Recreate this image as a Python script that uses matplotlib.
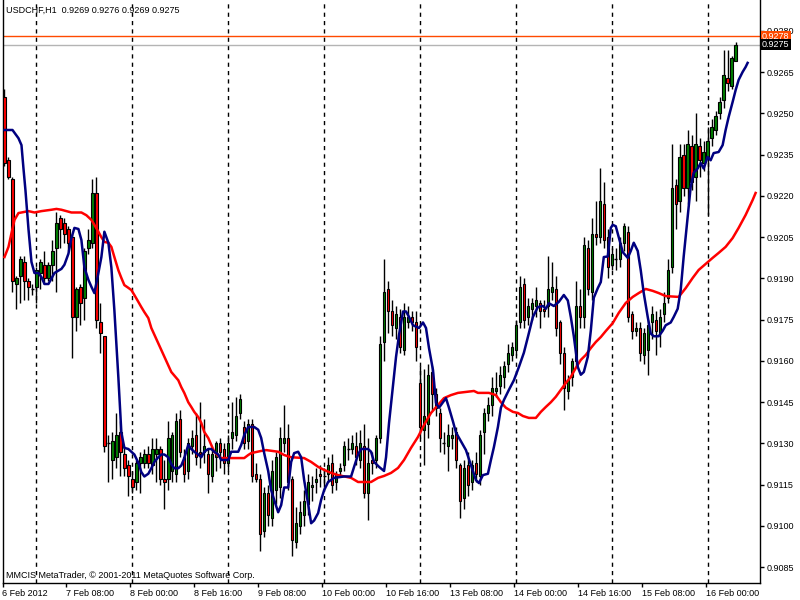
import matplotlib
matplotlib.use('Agg')
import matplotlib.pyplot as plt
import matplotlib.transforms as mtransforms

plt.rcParams['font.family'] = ['Liberation Sans', 'DejaVu Sans']

title_text = "USDCHF,H1  0.9269 0.9276 0.9269 0.9275"
footer_text = "MMCIS MetaTrader, \u00a9 2001-2011 MetaQuotes Software Corp."

opens = [0.9256, 0.9233, 0.9226, 0.9188, 0.9191, 0.9196, 0.9189, 0.9186, 0.9187, 0.9192,
         0.9195, 0.9190, 0.9195, 0.9201, 0.9212, 0.9210, 0.9208, 0.9205, 0.9176, 0.9187,
         0.9183, 0.9201, 0.9203, 0.9221, 0.9174, 0.9169, 0.9130, 0.9124, 0.9125, 0.9134,
         0.9126, 0.9122, 0.9117, 0.9116, 0.9123, 0.9123, 0.9126, 0.9122, 0.9126, 0.9128,
         0.9117, 0.9117, 0.9120, 0.9119, 0.9139, 0.9125, 0.9120, 0.9129, 0.9133, 0.9127,
         0.9127, 0.9126, 0.9118, 0.9125, 0.9130, 0.9128, 0.9123, 0.9132, 0.9133, 0.9141,
         0.9136, 0.9131, 0.9137, 0.9119, 0.9117, 0.9098, 0.9112, 0.9103, 0.9113, 0.9114,
         0.9130, 0.9132, 0.9117, 0.9094, 0.9100, 0.9104, 0.9108, 0.9114, 0.9116, 0.9119,
         0.9118, 0.9119, 0.9123, 0.9116, 0.9120, 0.9122, 0.9128, 0.9128, 0.9129, 0.9124,
         0.9129, 0.9112, 0.9124, 0.9124, 0.9132, 0.9167, 0.9186, 0.9178, 0.9172, 0.9176,
         0.9164, 0.9174, 0.9176, 0.9174, 0.9152, 0.9135, 0.9137, 0.9156, 0.9148, 0.9141,
         0.9130, 0.9129, 0.9132, 0.9134, 0.9122, 0.9110, 0.9122, 0.9116, 0.9123, 0.9118,
         0.9134, 0.9141, 0.9144, 0.9149, 0.9151, 0.9154, 0.9159, 0.9162, 0.9164, 0.9174,
         0.9188, 0.9176, 0.9179, 0.9180, 0.9181, 0.9179, 0.9180, 0.9185, 0.9186, 0.9174,
         0.9163, 0.9149, 0.9154, 0.9160, 0.9180, 0.9176, 0.9201, 0.9185, 0.9206, 0.9205,
         0.9217, 0.9205, 0.9195, 0.9197, 0.9197, 0.9203, 0.9207, 0.9177, 0.9171, 0.9172,
         0.9162, 0.9164, 0.9174, 0.9175, 0.9170, 0.9177, 0.9183, 0.9194, 0.9224, 0.9218,
         0.9235, 0.9223, 0.9238, 0.9227, 0.9238, 0.9232, 0.9234, 0.9241, 0.9244, 0.9250,
         0.9255, 0.9263, 0.9260, 0.9269]
highs = [0.9259, 0.9234, 0.9227, 0.9191, 0.9198, 0.9198, 0.9190, 0.9188, 0.9194, 0.9197,
         0.9200, 0.9196, 0.9204, 0.9214, 0.9213, 0.9212, 0.9209, 0.9206, 0.9187, 0.9188,
         0.9201, 0.9208, 0.9226, 0.9227, 0.9181, 0.9169, 0.9133, 0.9134, 0.9141, 0.9138,
         0.9129, 0.9124, 0.9120, 0.9124, 0.9127, 0.9128, 0.9129, 0.9132, 0.9132, 0.9129,
         0.9124, 0.9138, 0.9134, 0.9141, 0.9142, 0.9128, 0.9132, 0.9135, 0.9141, 0.9145,
         0.9139, 0.9128, 0.9128, 0.9131, 0.9132, 0.9130, 0.9133, 0.9145, 0.9147, 0.9148,
         0.9138, 0.9139, 0.9139, 0.9123, 0.9119, 0.9114, 0.9115, 0.9124, 0.9127, 0.9136,
         0.9144, 0.9137, 0.9118, 0.9107, 0.9109, 0.9113, 0.9119, 0.9118, 0.9121, 0.9122,
         0.9121, 0.9125, 0.9126, 0.9120, 0.9123, 0.9131, 0.9132, 0.9133, 0.9134, 0.9135,
         0.9137, 0.9132, 0.9127, 0.9133, 0.9169, 0.9197, 0.9189, 0.9182, 0.9180, 0.9179,
         0.9181, 0.9180, 0.9178, 0.9178, 0.9158, 0.9157, 0.9159, 0.9158, 0.9150, 0.9143,
         0.9134, 0.9137, 0.9136, 0.9136, 0.9123, 0.9124, 0.9127, 0.9124, 0.9127, 0.9135,
         0.9143, 0.9147, 0.9154, 0.9156, 0.9158, 0.9160, 0.9166, 0.9167, 0.9175, 0.9191,
         0.9190, 0.9183, 0.9183, 0.9187, 0.9182, 0.9182, 0.9198, 0.9196, 0.9191, 0.9175,
         0.9165, 0.9155, 0.9161, 0.9189, 0.9186, 0.9205, 0.9204, 0.9212, 0.9218, 0.9230,
         0.9225, 0.9208, 0.9201, 0.9201, 0.9205, 0.9210, 0.9209, 0.9178, 0.9174, 0.9174,
         0.9172, 0.9175, 0.9180, 0.9178, 0.9179, 0.9185, 0.9197, 0.9239, 0.9226, 0.9239,
         0.9239, 0.9244, 0.9242, 0.9250, 0.9241, 0.9240, 0.9245, 0.9248, 0.9251, 0.9256,
         0.9273, 0.9273, 0.9271, 0.9276]
lows = [0.9231, 0.9226, 0.9185, 0.9179, 0.9181, 0.9182, 0.9182, 0.9184, 0.9181, 0.9186,
        0.9188, 0.9189, 0.9189, 0.9185, 0.9201, 0.9203, 0.9200, 0.9161, 0.9171, 0.9173,
        0.9175, 0.9199, 0.9201, 0.9172, 0.9163, 0.9127, 0.9116, 0.9117, 0.9121, 0.9118,
        0.9118, 0.9111, 0.9112, 0.9113, 0.9112, 0.9121, 0.9121, 0.9119, 0.9116, 0.9115,
        0.9106, 0.9113, 0.9116, 0.9116, 0.9125, 0.9116, 0.9117, 0.9126, 0.9122, 0.9121,
        0.9123, 0.9112, 0.9116, 0.9120, 0.9121, 0.9119, 0.9120, 0.9128, 0.9131, 0.9139,
        0.9128, 0.9128, 0.9116, 0.9116, 0.9091, 0.9096, 0.9100, 0.9100, 0.9108, 0.9110,
        0.9127, 0.9113, 0.9089, 0.9092, 0.9097, 0.9100, 0.9104, 0.9109, 0.9112, 0.9114,
        0.9114, 0.9116, 0.9112, 0.9113, 0.9118, 0.9120, 0.9124, 0.9126, 0.9122, 0.9121,
        0.9110, 0.9102, 0.9119, 0.9121, 0.9130, 0.9160, 0.9170, 0.9169, 0.9168, 0.9163,
        0.9162, 0.9172, 0.9171, 0.9160, 0.9132, 0.9122, 0.9132, 0.9142, 0.9140, 0.9127,
        0.9126, 0.9120, 0.9128, 0.9121, 0.9103, 0.9106, 0.9111, 0.9113, 0.9116, 0.9115,
        0.9126, 0.9138, 0.9140, 0.9147, 0.9148, 0.9150, 0.9156, 0.9160, 0.9162, 0.9172,
        0.9172, 0.9173, 0.9175, 0.9176, 0.9172, 0.9176, 0.9176, 0.9182, 0.9169, 0.9159,
        0.9142, 0.9146, 0.9151, 0.9158, 0.9172, 0.9172, 0.9184, 0.9182, 0.9202, 0.9203,
        0.9201, 0.9190, 0.9193, 0.9193, 0.9194, 0.9200, 0.9174, 0.9168, 0.9169, 0.9160,
        0.9159, 0.9155, 0.9168, 0.9162, 0.9165, 0.9174, 0.9181, 0.9192, 0.9208, 0.9214,
        0.9220, 0.9217, 0.9222, 0.9218, 0.9227, 0.9229, 0.9213, 0.9238, 0.9242, 0.9248,
        0.9252, 0.9258, 0.9259, 0.9269]
closes = [0.9232, 0.9227, 0.9189, 0.9190, 0.9197, 0.9189, 0.9187, 0.9186, 0.9193, 0.9196,
          0.9190, 0.9195, 0.9200, 0.9210, 0.9208, 0.9206, 0.9203, 0.9176, 0.9186, 0.9181,
          0.9200, 0.9204, 0.9221, 0.9175, 0.9170, 0.9129, 0.9130, 0.9131, 0.9133, 0.9127,
          0.9121, 0.9118, 0.9114, 0.9123, 0.9125, 0.9126, 0.9123, 0.9128, 0.9128, 0.9117,
          0.9116, 0.9132, 0.9133, 0.9138, 0.9127, 0.9119, 0.9130, 0.9132, 0.9125, 0.9126,
          0.9129, 0.9119, 0.9126, 0.9130, 0.9127, 0.9123, 0.9130, 0.9134, 0.9140, 0.9146,
          0.9130, 0.9137, 0.9118, 0.9117, 0.9097, 0.9112, 0.9104, 0.9120, 0.9125, 0.9132,
          0.9132, 0.9116, 0.9095, 0.9101, 0.9105, 0.9109, 0.9116, 0.9115, 0.9117, 0.9118,
          0.9118, 0.9122, 0.9115, 0.9119, 0.9121, 0.9129, 0.9128, 0.9130, 0.9125, 0.9130,
          0.9112, 0.9123, 0.9123, 0.9132, 0.9166, 0.9185, 0.9178, 0.9173, 0.9177, 0.9165,
          0.9176, 0.9176, 0.9174, 0.9165, 0.9136, 0.9140, 0.9155, 0.9148, 0.9143, 0.9132,
          0.9130, 0.9133, 0.9133, 0.9124, 0.9109, 0.9121, 0.9115, 0.9122, 0.9119, 0.9133,
          0.9141, 0.9144, 0.9150, 0.9150, 0.9155, 0.9158, 0.9163, 0.9165, 0.9173, 0.9187,
          0.9175, 0.9180, 0.9181, 0.9182, 0.9178, 0.9178, 0.9186, 0.9187, 0.9172, 0.9163,
          0.9150, 0.9153, 0.9160, 0.9180, 0.9176, 0.9202, 0.9186, 0.9206, 0.9205, 0.9218,
          0.9204, 0.9194, 0.9199, 0.9197, 0.9203, 0.9209, 0.9176, 0.9171, 0.9172, 0.9163,
          0.9170, 0.9173, 0.9177, 0.9171, 0.9176, 0.9181, 0.9193, 0.9223, 0.9217, 0.9234,
          0.9223, 0.9239, 0.9225, 0.9239, 0.9233, 0.9236, 0.9240, 0.9245, 0.9249, 0.9254,
          0.9264, 0.9261, 0.9270, 0.9275]

# fast moving average (navy), sampled points: bar index, value
fast_ma_bar = [0, 2, 3.5, 4.25, 4.75, 5.25, 6, 6.75, 7.5, 8.5, 9.25, 10, 11, 11.75, 12.5, 14.25,
               15, 16, 16.75, 17.5, 18.5, 19.25, 20, 21, 21.75, 22.5, 23.5, 24.25, 25, 26, 26.75,
               27.5, 28.5, 29.25, 30, 31, 31.75, 32.5, 33.5, 34.25, 35, 36, 36.75, 37.5, 38.5,
               39.25, 40, 41, 41.75, 42.5, 43.5, 44.25, 45, 46, 46.75, 47.5, 48.5, 49.25, 50, 51,
               51.75, 52.5, 53.5, 54.25, 56, 56.75, 58.5, 59.25, 60, 61, 61.75, 62.5, 63.5, 64.25,
               65, 66, 66.75, 67.5, 68.5, 69.25, 70, 71, 71.75, 72.5, 73.5, 74.25, 75, 76, 76.75,
               77.5, 78.5, 79.25, 80, 81, 82.5, 85, 86.75, 87.5, 88.5, 89.25, 91, 91.75, 92.5,
               93.75, 95, 95.5, 96.25, 97.25, 98, 98.75, 99.75, 100.5, 101.25, 102.25, 103.75,
               104.75, 105.5, 106.25, 107.25, 108, 108.75, 109.75, 110.5, 111.25, 112.25, 113,
               115.5, 117.25, 118, 118.75, 119.75, 121, 121.75, 122.5, 123.5, 124.25, 125, 126.25,
               127.5, 128.75, 130, 131, 132.25, 133.5, 134.75, 135.5, 136.25, 137.5, 138.75, 140,
               141, 141.75, 142.5, 143.5, 144.25, 145, 146, 146.75, 147.5, 148.5, 149.25, 150,
               151, 151.75, 152.25, 153, 153.75, 154.75, 156, 156.75, 157.5, 158.5, 159.25, 160,
               161, 161.75, 162.5, 163.75, 164.75, 165.5, 166.75, 167.5, 168.5, 169.25, 170, 171,
               171.75, 172.5, 173.5, 174.25, 175, 176, 176.75, 177.5, 178.75, 179.75, 180.5,
               181.25, 182.25, 183, 183.75, 184.75, 185.5, 186]
fast_ma_val = [0.9244, 0.9244, 0.9241, 0.92385, 0.9230, 0.9222, 0.9208, 0.9196, 0.9192, 0.9192,
               0.91905, 0.9188, 0.9188, 0.9190, 0.9192, 0.91935, 0.9195, 0.9199, 0.92047, 0.92084,
               0.9208, 0.9204, 0.9194, 0.91895, 0.9187, 0.91847, 0.9192, 0.91978, 0.9207, 0.9203,
               0.9194, 0.91785, 0.9154, 0.9134, 0.91284, 0.9128, 0.9127, 0.9126, 0.9123, 0.91196,
               0.9118, 0.9119, 0.9121, 0.91233, 0.9125, 0.9126, 0.9126, 0.9125, 0.91225, 0.9121,
               0.9121, 0.9122, 0.91247, 0.91295, 0.9128, 0.9127, 0.9126, 0.9125, 0.9127, 0.9128,
               0.9128, 0.9127, 0.9126, 0.9124, 0.9124, 0.9127, 0.9127, 0.91295, 0.9133, 0.9136,
               0.9136, 0.9136, 0.9135, 0.9132, 0.91265, 0.9120, 0.9113, 0.91095, 0.9105, 0.91076,
               0.9114, 0.9114, 0.91233, 0.91265, 0.9127, 0.9125, 0.91167, 0.9108, 0.9101, 0.9102,
               0.91047, 0.91095, 0.9113, 0.9116, 0.91175, 0.9118, 0.9118, 0.91215, 0.9126, 0.9128,
               0.9128, 0.9127, 0.91233, 0.91215, 0.9120, 0.9125, 0.91375, 0.9151, 0.91615, 0.91695,
               0.9178, 0.9178, 0.9176, 0.9173, 0.9172, 0.9174, 0.9172, 0.91647, 0.91567, 0.91447,
               0.9143, 0.9145, 0.91465, 0.9143, 0.9138, 0.9134, 0.91276, 0.9120, 0.91167, 0.91156,
               0.91185, 0.9119, 0.9124, 0.91287, 0.9136, 0.9143, 0.91458, 0.91495, 0.9153, 0.91578,
               0.9163, 0.91687, 0.9176, 0.91796, 0.9180, 0.9179, 0.9181, 0.9180, 0.91815, 0.9184,
               0.9182, 0.9176, 0.9169, 0.91578, 0.9155, 0.9156, 0.91615, 0.9171, 0.9183, 0.91865,
               0.91887, 0.91978, 0.9198, 0.92084, 0.92095, 0.9209, 0.9205, 0.91996, 0.91975, 0.9200,
               0.9203, 0.9200, 0.9193, 0.91847, 0.9176, 0.9170, 0.9169, 0.9169, 0.9171, 0.9173,
               0.9174, 0.9176, 0.9179, 0.91858, 0.9198, 0.92124, 0.92233, 0.92284, 0.9230, 0.9232,
               0.9230, 0.92342, 0.9233, 0.92356, 0.9236, 0.92385, 0.9244, 0.92487, 0.92542, 0.92585,
               0.92622, 0.92651, 0.92669, 0.92684]

# slow moving average (red), sampled points: bar index, value
slow_ma_bar = [0, 1, 1.75, 2.5, 3.5, 4.25, 6, 7.5, 9.25, 11.75, 13, 14.25, 16.75, 19.25, 20.5,
               21.75, 22.5, 23.5, 24.25, 25, 26, 26.75, 27.5, 28.5, 29.25, 30, 31, 31.75, 32.5,
               33.5, 34.25, 35, 36, 36.75, 39.25, 41.75, 43.5, 44.25, 45, 46, 46.75, 47.5, 48.5,
               49.25, 50, 51, 51.75, 52.5, 53.5, 54.25, 60, 61, 61.75, 64.25, 65.5, 68.5, 70,
               71.75, 75, 76.75, 78.5, 80, 81.75, 83.5, 86.75, 88.5, 91.75, 93.5, 95, 96.75, 98.5,
               100, 101.75, 103.5, 105, 106.75, 108.5, 110, 111.75, 113.5, 117.5, 118.5, 121.25,
               123, 124.25, 125.5, 127.25, 128.5, 129.75, 131.25, 133, 134.25, 135.5, 136.75, 138,
               139.25, 140.5, 141.75, 143, 144.25, 145.5, 146.75, 148, 149.25, 150.5, 152.25,
               153.75, 155.5, 157.25, 158.75, 160.5, 162.25, 163.75, 165.5, 168.75, 170.5, 172.25,
               173.75, 175.5, 177.25, 178.75, 180.5, 182.25, 183.75, 185.5, 187.25, 188]
slow_ma_val = [0.91978, 0.92015, 0.92065, 0.92113, 0.92138, 0.9214, 0.92145, 0.9214, 0.92145,
               0.9215, 0.92153, 0.9215, 0.9214, 0.9214, 0.9213, 0.92113, 0.92095, 0.9207, 0.9205,
               0.92033, 0.9203, 0.92015, 0.91978, 0.9193, 0.91902, 0.91876, 0.91866, 0.91858,
               0.9184, 0.91815, 0.91796, 0.91778, 0.91756, 0.9172, 0.9164, 0.9156, 0.9153, 0.91505,
               0.91484, 0.9145, 0.91433, 0.91415, 0.91396, 0.91375, 0.91342, 0.9132, 0.91295,
               0.9127, 0.91255, 0.91247, 0.91247, 0.91258, 0.91265, 0.91273, 0.91276, 0.9127,
               0.91258, 0.9125, 0.91247, 0.91233, 0.91215, 0.91204, 0.91193, 0.91185, 0.91175,
               0.9116, 0.9116, 0.91175, 0.91182, 0.91193, 0.91211, 0.9124, 0.91284, 0.91324,
               0.91367, 0.91411, 0.9144, 0.91465, 0.91476, 0.91484, 0.91491, 0.91484, 0.91484,
               0.91476, 0.9145, 0.9143, 0.91415, 0.91411, 0.9140, 0.91393, 0.91393, 0.91415,
               0.91433, 0.9145, 0.9147, 0.91495, 0.9152, 0.91542, 0.91575, 0.91604, 0.91622,
               0.91647, 0.91669, 0.91687, 0.91709, 0.91738, 0.91775, 0.91811, 0.91833, 0.91847,
               0.91862, 0.91855, 0.91847, 0.91836, 0.91833, 0.91865, 0.91902, 0.91931, 0.91953,
               0.91975, 0.91993, 0.92015, 0.92047, 0.92084, 0.92131, 0.92185, 0.92211]

xtick_bars = [0, 16, 32, 48, 64, 80, 96, 112, 128, 144, 160, 176]
xtick_labels = ["6 Feb 2012", "7 Feb 08:00", "8 Feb 00:00", "8 Feb 16:00", "9 Feb 08:00",
                "10 Feb 00:00", "10 Feb 16:00", "13 Feb 08:00", "14 Feb 00:00", "14 Feb 16:00",
                "15 Feb 08:00", "16 Feb 00:00"]
day_start_bars = [8, 32, 56, 80, 104, 128, 152, 176]
ytick_vals = [0.9280, 0.9265, 0.9250, 0.9235, 0.9220, 0.9205, 0.9190, 0.9175, 0.9160,
              0.9145, 0.9130, 0.9115, 0.9100, 0.9085]
ask_price = 0.9278
bid_price = 0.9275

FS = 6.5
fig = plt.figure(figsize=(8, 6), dpi=100)
fig.patch.set_facecolor('white')
ax = fig.add_axes([2.5 / 800, 17 / 600, 757.5 / 800, 583 / 600])
ax.set_facecolor('white')

n = len(opens)
ax.set_xlim(-0.25, 189.1)
ax.set_ylim(0.907927, 0.929127)

# day separators
for b in day_start_bars:
    ax.axvline(b, color='black', lw=1.0, dashes=(3, 3), zorder=1)

# price lines
ax.axhline(ask_price, color='#FF4A00', lw=1.0, zorder=1)
ax.axhline(bid_price, color='#B4B4B4', lw=1.0, zorder=1)

# candles
xs = list(range(n))
ax.vlines(xs, lows, highs, color='black', lw=1.0, zorder=2)
for i in xs:
    o, c = opens[i], closes[i]
    if abs(c - o) < 1e-9:
        ax.hlines(o, i - 0.38, i + 0.38, color='black', lw=1.0, zorder=3)
        continue
    col = '#008000' if c > o else '#FF0000'
    ax.bar(i, abs(c - o), bottom=min(o, c), width=0.6, color=col,
           edgecolor='black', linewidth=0.8, zorder=3)

# moving averages
ax.plot(slow_ma_bar, slow_ma_val, color='#FF0000', lw=1.8, zorder=4)
ax.plot(fast_ma_bar, fast_ma_val, color='#000080', lw=1.8, zorder=5)

# spines
for s in ['left', 'bottom', 'right']:
    ax.spines[s].set_color('black')
    ax.spines[s].set_linewidth(1.0)
ax.spines['top'].set_visible(False)

# y axis on right
ax.yaxis.tick_right()
ax.set_yticks(ytick_vals)
ax.set_yticklabels(["%.4f" % v for v in ytick_vals])
ax.tick_params(axis='y', direction='out', length=3, width=1, pad=2, labelsize=FS, colors='black')

# x axis
ax.set_xticks([b - 0.5 for b in xtick_bars])
ax.set_xticklabels(xtick_labels, ha='left')
ax.tick_params(axis='x', direction='out', length=3, width=1, pad=1.5, labelsize=FS, colors='black')

# price labels on right
btrans = mtransforms.blended_transform_factory(ax.transAxes, ax.transData)
ax.text(1.0 + 2 / 757.5, ask_price, "%.4f" % ask_price, transform=btrans, ha='left', va='center',
        fontsize=FS, color='white', zorder=10, clip_on=False,
        bbox=dict(boxstyle='square,pad=0.12', fc='#FF4A00', ec='none'))
ax.text(1.0 + 2 / 757.5, bid_price, "%.4f" % bid_price, transform=btrans, ha='left', va='center',
        fontsize=FS, color='white', zorder=11, clip_on=False,
        bbox=dict(boxstyle='square,pad=0.12', fc='black', ec='none'))

# title and footer
ax.text(4 / 757.5, 1 - 10 / 583, title_text, transform=ax.transAxes, ha='left', va='center',
        fontsize=FS, color='black', zorder=12)
ax.text(4 / 757.5, 8 / 583, footer_text, transform=ax.transAxes, ha='left', va='center',
        fontsize=FS, color='black', zorder=12)

fig.savefig('out.png', dpi=100, facecolor='white')
